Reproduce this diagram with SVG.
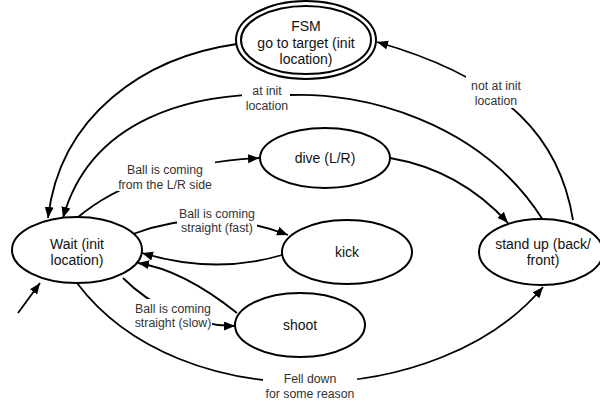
<svg xmlns="http://www.w3.org/2000/svg" width="600" height="403" viewBox="0 0 600 403">
<defs>
<marker id="arr" markerUnits="userSpaceOnUse" markerWidth="12" markerHeight="10" refX="11" refY="4.5" orient="auto">
<path d="M0,0 L11,4.5 L0,9 z" fill="#000"/>
</marker>
<style>
.node ellipse{fill:#fff;stroke:#000;stroke-width:2}
.node text{font-family:"Liberation Sans",Arial,sans-serif;font-size:14px;fill:#111;text-anchor:middle}
.edge{fill:none;stroke:#000;stroke-width:1.8;marker-end:url(#arr)}
.lbg{fill:#fff;stroke:none}
.lbl{font-family:"Liberation Sans",Arial,sans-serif;font-size:12.3px;fill:#333;text-anchor:middle}
</style>
</defs>
<rect width="600" height="403" fill="#fff"/>
<g id="connectors">
<path class="edge" d="M237,44 C145,57 60,115 48,218"/>
<path class="edge" d="M573,220 C560,140 510,80 377,42"/>
<path class="edge" d="M543,220 C480,120 360,92 290,95 C190,90 90,120 63,218"/>
<path class="edge" d="M77,218 Q140,165 259,158"/>
<path class="edge" d="M390,158 Q460,170 508,223"/>
<path class="edge" d="M133,234 Q210,205 288,235"/>
<path class="edge" d="M282,255 Q215,275 142,253"/>
<path class="edge" d="M237,313 Q183,270 138,263"/>
<path class="edge" d="M123,278 C150,305 190,326 235,326"/>
<path class="edge" d="M77,283 C180,420 440,410 543,287"/>
<path class="edge" d="M18,313 L40,283"/>
<rect class="lbg" x="242" y="81" width="48" height="31"/>
<text class="lbl" x="267" y="94.5">at init</text>
<text class="lbl" x="267" y="109.5">location</text>
<rect class="lbg" x="466" y="76" width="60" height="32"/>
<text class="lbl" x="496" y="89.5">not at init</text>
<text class="lbl" x="496" y="104.5">location</text>
<rect class="lbg" x="115" y="160" width="100" height="31"/>
<text class="lbl" x="165" y="173.5">Ball is coming</text>
<text class="lbl" x="165" y="188.5">from the L/R side</text>
<rect class="lbg" x="177" y="204" width="80" height="31"/>
<text class="lbl" x="217" y="217.5">Ball is coming</text>
<text class="lbl" x="217" y="232">straight (fast)</text>
<rect class="lbg" x="133" y="299" width="79" height="31"/>
<text class="lbl" x="173" y="312.5">Ball is coming</text>
<text class="lbl" x="173" y="326.5">straight (slow)</text>
<rect class="lbg" x="263" y="369" width="94" height="34"/>
<text class="lbl" x="310" y="382.5">Fell down</text>
<text class="lbl" x="310" y="397.5">for some reason</text>
</g>
<g id="fsm" class="node">
<ellipse cx="306" cy="40" rx="70" ry="39"/>
<ellipse cx="306" cy="40" rx="65" ry="34"/>
<text x="306" y="31">FSM</text>
<text x="306" y="48">go to target (init</text>
<text x="306" y="64">location)</text>
</g>
<g id="wait" class="node">
<ellipse cx="77" cy="250" rx="65" ry="33"/>
<text x="77" y="249">Wait (init</text>
<text x="77" y="265">location)</text>
</g>
<g id="dive" class="node">
<ellipse cx="325" cy="158" rx="65" ry="30"/>
<text x="325" y="163">dive (L/R)</text>
</g>
<g id="kick" class="node">
<ellipse cx="347" cy="252" rx="65" ry="32"/>
<text x="347" y="257">kick</text>
</g>
<g id="shoot" class="node">
<ellipse cx="300" cy="325" rx="65" ry="32"/>
<text x="300" y="330">shoot</text>
</g>
<g id="standup" class="node">
<ellipse cx="541" cy="252" rx="62" ry="33"/>
<text x="543" y="249">stand up (back/</text>
<text x="543" y="265">front)</text>
</g>
</svg>
